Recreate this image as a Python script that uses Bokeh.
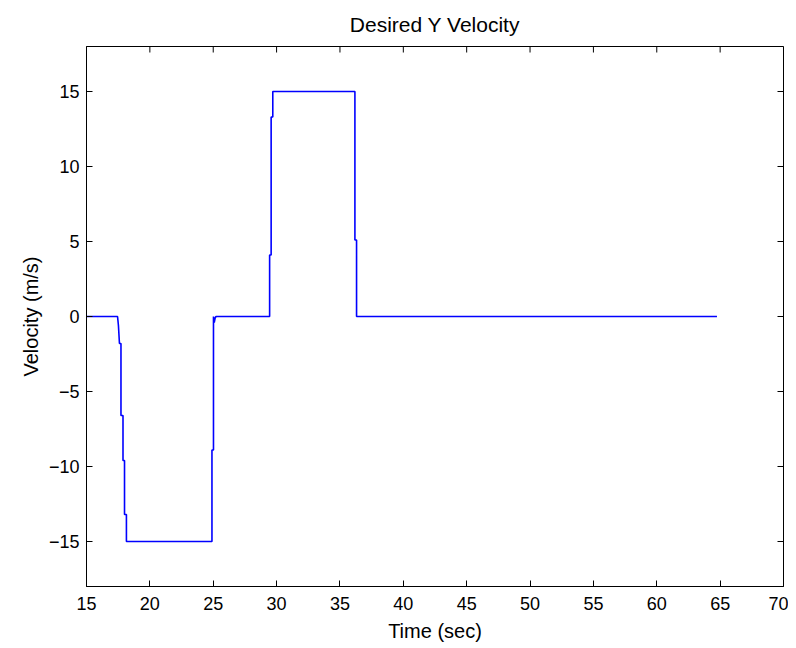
import math
from bokeh.plotting import figure
from bokeh.models import FixedTicker, Range1d
from bokeh.embed import file_html
from bokeh.resources import INLINE

# Data (time in sec, velocity in m/s)
time_s = [15, 17.45, 17.52, 17.6, 17.72, 17.72, 17.88, 17.88, 18.0, 18.0, 18.15, 18.15,
          24.9, 24.9, 25.02, 25.02, 25.08, 25.15, 25.22,
          29.45, 29.45, 29.57, 29.57, 29.7, 29.7,
          36.18, 36.18, 36.31, 36.31, 64.75]
velocity = [0, 0, -0.6, -1.8, -1.8, -6.6, -6.6, -9.6, -9.6, -13.2, -13.2, -15,
            -15, -8.9, -8.9, 0, -0.4, -0.1, 0,
            0, 4.1, 4.1, 13.3, 13.3, 15,
            15, 5.1, 5.1, 0, 0]
x_ticks = [15, 20, 25, 30, 35, 40, 45, 50, 55, 60, 65, 70]
y_ticks = [-15, -10, -5, 0, 5, 10, 15]
x_min, x_max = 15, 70
y_min, y_max = -18, 18

FONT = "Liberation Sans"

p = figure(width=788, height=644, output_backend="svg", toolbar_location=None,
           x_range=Range1d(x_min, x_max), y_range=Range1d(y_min, y_max),
           title="Desired Y Velocity",
           min_border_left=86, min_border_right=5, min_border_top=46, min_border_bottom=58)
p.title.align = "center"
p.title.text_font = FONT
p.title.text_font_size = "21px"
p.title.text_font_style = "normal"
p.title.text_color = "#000000"
p.title.standoff = 21

p.line(time_s, velocity, line_color="#0000FF", line_width=1.6)

# inward ticks on the top and right edges (MATLAB box style)
p.scatter(x_ticks, [y_max] * len(x_ticks), marker="dash", angle=math.pi / 2,
          size=12, line_color="#000000", line_width=1)
p.scatter([x_max] * len(y_ticks), y_ticks, marker="dash",
          size=12, line_color="#000000", line_width=1)

p.grid.visible = False
p.outline_line_color = "#000000"
p.outline_line_width = 1
p.background_fill_color = "white"
p.border_fill_color = "white"

p.xaxis.ticker = FixedTicker(ticks=x_ticks)
p.yaxis.ticker = FixedTicker(ticks=y_ticks)
p.xaxis.axis_label = "Time (sec)"
p.yaxis.axis_label = "Velocity (m/s)"

for ax in [p.xaxis[0], p.yaxis[0]]:
    ax.major_tick_in = 6
    ax.major_tick_out = 0
    ax.minor_tick_in = 0
    ax.minor_tick_out = 0
    ax.axis_line_color = "#000000"
    ax.major_tick_line_color = "#000000"
    ax.major_label_text_font = FONT
    ax.major_label_text_font_size = "18px"
    ax.major_label_text_color = "#000000"
    ax.axis_label_text_font = FONT
    ax.axis_label_text_font_size = "20px"
    ax.axis_label_text_font_style = "normal"
    ax.axis_label_text_color = "#000000"

p.xaxis.major_label_standoff = 10
p.xaxis.axis_label_standoff = 7
p.yaxis.major_label_standoff = 7
p.yaxis.axis_label_standoff = 4

open("out.html", "w").write(file_html(p, INLINE))
